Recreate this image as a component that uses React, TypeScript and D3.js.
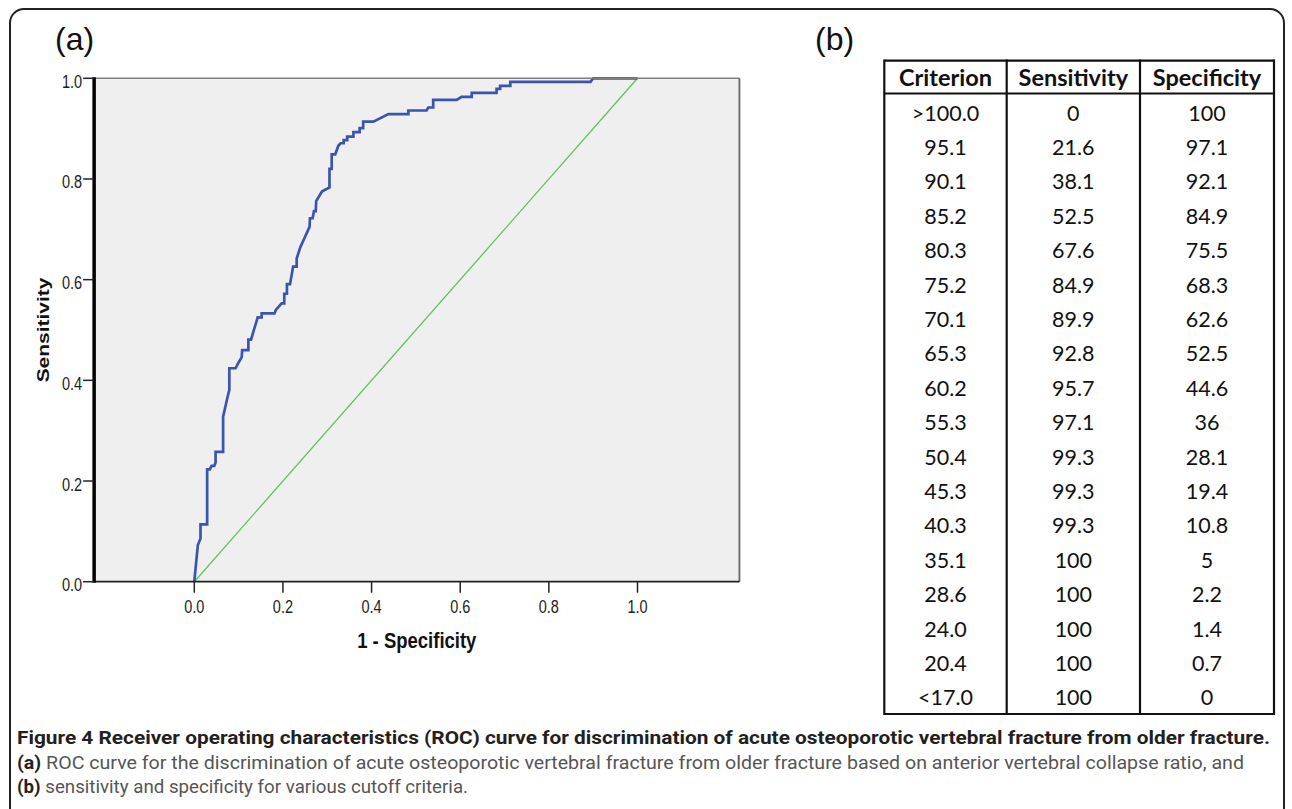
import React from "react";
import * as d3 from "d3";

// ROC curve: 1 - specificity vs sensitivity
const rocFpr = [
  0, 0.008, 0.014, 0.014, 0.029, 0.029, 0.035, 0.039, 0.045, 0.048, 0.048, 0.065, 0.065, 0.071,
  0.075, 0.079, 0.079, 0.093, 0.099, 0.107, 0.108, 0.122, 0.122, 0.128, 0.143, 0.152, 0.152,
  0.181, 0.184, 0.197, 0.203, 0.203, 0.209, 0.209, 0.216, 0.223, 0.231, 0.231, 0.239, 0.26,
  0.261, 0.267, 0.27, 0.274, 0.275, 0.288, 0.292, 0.305, 0.305, 0.31, 0.31, 0.318, 0.325, 0.33,
  0.337, 0.337, 0.345, 0.345, 0.359, 0.359, 0.373, 0.373, 0.381, 0.381, 0.404, 0.438, 0.483,
  0.483, 0.524, 0.528, 0.539, 0.539, 0.592, 0.603, 0.626, 0.626, 0.682, 0.682, 0.69, 0.69,
  0.713, 0.713, 0.894, 0.9, 1.0,
];
const rocTpr = [
  0, 0.073, 0.086, 0.114, 0.114, 0.223, 0.223, 0.23, 0.23, 0.237, 0.258, 0.258, 0.328, 0.351,
  0.367, 0.381, 0.424, 0.424, 0.434, 0.446, 0.46, 0.46, 0.481, 0.481, 0.525, 0.525, 0.533,
  0.533, 0.54, 0.553, 0.553, 0.572, 0.572, 0.591, 0.591, 0.626, 0.626, 0.642, 0.664, 0.705,
  0.722, 0.722, 0.736, 0.736, 0.756, 0.775, 0.777, 0.783, 0.82, 0.82, 0.849, 0.849, 0.866, 0.871,
  0.871, 0.877, 0.877, 0.884, 0.884, 0.893, 0.893, 0.901, 0.901, 0.914, 0.914, 0.929, 0.929,
  0.936, 0.936, 0.942, 0.942, 0.957, 0.957, 0.963, 0.963, 0.971, 0.971, 0.979, 0.979, 0.985,
  0.985, 0.993, 0.993, 1.0, 1.0,
];
const refLine = [0, 1];
const xTicks = [0, 0.2, 0.4, 0.6, 0.8, 1.0];
const yTicks = [0, 0.2, 0.4, 0.6, 0.8, 1.0];

// table (b)
const tableHeaders = ["Criterion", "Sensitivity", "Specificity"];
const criterion = [
  ">100.0", "95.1", "90.1", "85.2", "80.3", "75.2", "70.1", "65.3", "60.2",
  "55.3", "50.4", "45.3", "40.3", "35.1", "28.6", "24.0", "20.4", "<17.0",
];
const sensitivity = [0, 21.6, 38.1, 52.5, 67.6, 84.9, 89.9, 92.8, 95.7, 97.1, 99.3, 99.3, 99.3, 100, 100, 100, 100, 100];
const specificity = [100, 97.1, 92.1, 84.9, 75.5, 68.3, 62.6, 52.5, 44.6, 36, 28.1, 19.4, 10.8, 5, 2.2, 1.4, 0.7, 0];

const captionTitle =
  "Figure 4 Receiver operating characteristics (ROC) curve for discrimination of acute osteoporotic vertebral fracture from older fracture.";
const captionA =
  " ROC curve for the discrimination of acute osteoporotic vertebral fracture from older fracture based on anterior vertebral collapse ratio, and";
const captionB = " sensitivity and specificity for various cutoff criteria.";

const W = 1292;
const H = 809;

export default function App() {
  // plot frame spans a bit beyond 0..1 on x, like SPSS
  const x = d3.scaleLinear().domain([0, 1]).range([194.3, 637.5]);
  const y = d3.scaleLinear().domain([0, 1]).range([581.7, 78.3]);
  const left = x(-0.226);
  const right = x(1.23);

  const line = d3.line<number>()
    .x((d, i) => x(rocFpr[i]))
    .y((d, i) => y(rocTpr[i]));
  const diag = d3.line<number>().x((d) => x(d)).y((d) => y(d));
  const fmt = d3.format(".1f");

  // table layout
  const colEdges = [884.3, 1006.7, 1140, 1274];
  const rows = d3.scaleBand<number>().domain(d3.range(criterion.length)).range([95.8, 715]);
  const cols = [criterion, sensitivity.map(String), specificity.map(String)];
  const tableFont = "Lato, 'Noto Sans', sans-serif";

  return (
    <svg width={W} height={H} style={{ position: "absolute", left: 0, top: 0, background: "#fff" }}>
      <rect x={10} y={9} width={1274} height={840} rx={14} fill="none" stroke="#222" strokeWidth={2} />

      {/* (a) ROC plot */}
      <text x={55} y={50} fontFamily="'Liberation Sans', Arial, sans-serif" fontSize={32} fill="#111">(a)</text>
      <rect x={left} y={y(1)} width={right - left} height={y(0) - y(1)} fill="#efefef" />
      <path d={diag(refLine) ?? ""} fill="none" stroke="#5cc35c" strokeWidth={1.3} />
      <path d={line(rocFpr) ?? ""} fill="none" stroke="#3b54b0" strokeWidth={2.7} strokeLinejoin="miter" />
      <line x1={left} x2={right} y1={y(1)} y2={y(1)} stroke="#808080" strokeWidth={1.5} />
      <line x1={right} x2={right} y1={y(1)} y2={y(0)} stroke="#666" strokeWidth={1.8} />
      <line x1={left} x2={right} y1={y(0)} y2={y(0)} stroke="#222" strokeWidth={1.8} />
      <line x1={left} x2={left} y1={y(1) - 1} y2={y(0) + 1} stroke="#000" strokeWidth={3.5} />

      {yTicks.map((t) => (
        <g key={"y" + t}>
          <line x1={left - 11} x2={left} y1={y(t)} y2={y(t)} stroke="#222" strokeWidth={1.5} />
          <text
            transform={`translate(${left - 12},${y(t) + 9.5}) scale(1,1.22)`}
            textAnchor="end"
            fontFamily="'Liberation Sans', Arial, sans-serif"
            fontSize={14.5}
            fill="#222"
          >
            {fmt(t)}
          </text>
        </g>
      ))}
      {xTicks.map((t) => (
        <g key={"x" + t}>
          <line x1={x(t)} x2={x(t)} y1={y(0)} y2={y(0) + 11} stroke="#222" strokeWidth={1.5} />
          <text
            transform={`translate(${x(t)},${612.5}) scale(1,1.22)`}
            textAnchor="middle"
            fontFamily="'Liberation Sans', Arial, sans-serif"
            fontSize={14.5}
            fill="#222"
          >
            {fmt(t)}
          </text>
        </g>
      ))}
      <text
        transform={`translate(48.5,${(y(0) + y(1)) / 2}) rotate(-90) scale(1.27,1)`}
        textAnchor="middle"
        fontFamily="'Liberation Sans', Arial, sans-serif"
        fontWeight="bold"
        fontSize={16.5}
        fill="#111"
      >
        Sensitivity
      </text>
      <text
        transform={`translate(${(left + right) / 2},647.5) scale(1,1.2)`}
        textAnchor="middle"
        fontFamily="'Liberation Sans', Arial, sans-serif"
        fontWeight="bold"
        fontSize={18.5}
        fill="#111"
      >
        1 - Specificity
      </text>

      {/* (b) criteria table */}
      <text x={815} y={50} fontFamily="'Liberation Sans', Arial, sans-serif" fontSize={32} fill="#111">(b)</text>
      {tableHeaders.map((h, c) => (
        <text
          key={h}
          x={(colEdges[c] + colEdges[c + 1]) / 2}
          y={86}
          textAnchor="middle"
          fontFamily={tableFont}
          fontWeight="bold"
          fontSize={23.5}
          fill="#111"
        >
          {h}
        </text>
      ))}
      {cols.map((vals, c) =>
        vals.map((v, i) => (
          <text
            key={c + "-" + i}
            x={(colEdges[c] + colEdges[c + 1]) / 2}
            y={(rows(i) ?? 0) + rows.bandwidth() / 2 + 7.5}
            textAnchor="middle"
            fontFamily={tableFont}
            fontSize={21.5}
            fill="#111"
          >
            {v}
          </text>
        ))
      )}
      <g stroke="#111" strokeWidth={2.2}>
        <line x1={colEdges[0]} x2={colEdges[3]} y1={60.7} y2={60.7} />
        <line x1={colEdges[0]} x2={colEdges[3]} y1={93.5} y2={93.5} />
        <line x1={colEdges[0]} x2={colEdges[3]} y1={714} y2={714} />
        {colEdges.map((e) => (
          <line key={e} x1={e} x2={e} y1={59.6} y2={715.1} />
        ))}
      </g>

      {/* caption */}
      <g fontFamily="Roboto, 'Noto Sans', sans-serif" fontSize={18.5}>
        <text x={17} y={744} fontWeight="bold" fill="#231f20" textLength={1253} lengthAdjust="spacingAndGlyphs">
          {captionTitle}
        </text>
        <text x={17} y={768.5} fill="#555" textLength={1227} lengthAdjust="spacingAndGlyphs">
          <tspan fontWeight="bold" fill="#231f20">(a)</tspan>
          {captionA}
        </text>
        <text x={17} y={793} fill="#555" textLength={451} lengthAdjust="spacingAndGlyphs">
          <tspan fontWeight="bold" fill="#231f20">(b)</tspan>
          {captionB}
        </text>
      </g>
    </svg>
  );
}
